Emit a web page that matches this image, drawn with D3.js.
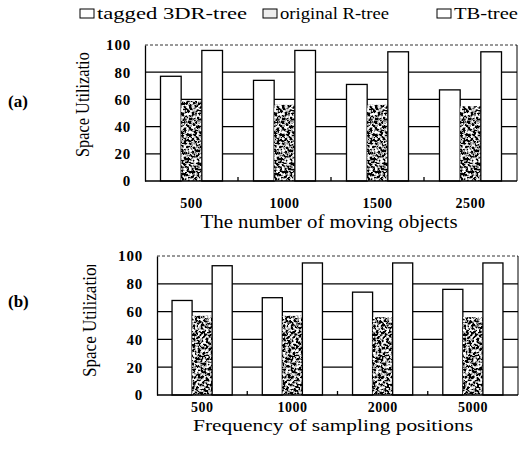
<!DOCTYPE html>
<html>
<head>
<meta charset="utf-8">
<script src="https://cdn.jsdelivr.net/npm/d3@7"></script>
<style>
  body { margin: 0; background: #fff; }
  svg { display: block; }
  text { font-family: "Liberation Serif", "DejaVu Serif", serif; fill: #000; }
</style>
</head>
<body>
<svg id="draw"></svg>
<script>
// data
var series = ["tagged 3DR-tree", "original R-tree", "TB-tree"];
var yTicks = [0, 20, 40, 60, 80, 100];

var catsA = ["500", "1000", "1500", "2500"];
var tagged3drA = [77, 74, 71, 67];
var originalRA = [59, 56, 56, 55];
var tbTreeA = [96, 96, 95, 95];

var catsB = ["500", "1000", "2000", "5000"];
var tagged3drB = [68, 70, 74, 76];
var originalRB = [57, 57, 56, 56];
var tbTreeB = [93, 95, 95, 95];

var width = 526, height = 455;
var serif = "Liberation Serif";

var svg = d3.select("#draw")
  .attr("width", width)
  .attr("height", height);

// stippled texture for the original R-tree bars
var defs = svg.append("defs");
var filt = defs.append("filter").attr("id", "grain")
  .attr("x", 0).attr("y", 0).attr("width", 1).attr("height", 1);
filt.append("feTurbulence")
  .attr("type", "fractalNoise")
  .attr("baseFrequency", 0.38)
  .attr("numOctaves", 3)
  .attr("seed", 7)
  .attr("result", "noise");
filt.append("feColorMatrix")
  .attr("in", "noise")
  .attr("type", "matrix")
  .attr("values", "4.5 0 0 0 -1.95  4.5 0 0 0 -1.95  4.5 0 0 0 -1.95  0 0 0 0 1")
  .attr("result", "spots");
filt.append("feComposite")
  .attr("in", "spots")
  .attr("in2", "SourceGraphic")
  .attr("operator", "in");

var fills = ["#fff", "#555", "#fff"];

// legend
var legendX = [80, 263, 437];
var legendLen = [150, 109, 64];
var legend = svg.append("g");
series.forEach(function(s, i) {
  var g = legend.append("g").attr("transform", "translate(" + legendX[i] + ",9)");
  g.append("rect")
    .attr("width", 14).attr("height", 9)
    .attr("fill", i == 1 ? "#eee" : "#fff")
    .attr("stroke", "#000").attr("stroke-width", 1);
  g.append("text")
    .attr("x", 17).attr("y", 10)
    .attr("font-family", serif)
    .attr("font-size", 17)
    .attr("textLength", legendLen[i])
    .attr("lengthAdjust", "spacingAndGlyphs")
    .text(s);
});

function drawPanel(cfg) {
  var x0 = d3.scaleBand()
    .domain(cfg.cats)
    .range([cfg.left, cfg.right])
    .paddingInner(1 / 3)
    .paddingOuter(1 / 6);

  var x1 = d3.scaleBand()
    .domain(series)
    .range([0, x0.bandwidth()]);

  var y = d3.scaleLinear()
    .domain([0, 100])
    .range([cfg.bottom, cfg.top]);

  var g = svg.append("g");

  // gridlines behind bars
  g.selectAll(".grid")
    .data(yTicks.filter(d => d > 0 && d < 100))
    .enter().append("line")
    .attr("x1", cfg.left).attr("x2", cfg.right)
    .attr("y1", d => y(d)).attr("y2", d => y(d))
    .attr("stroke", "#000").attr("stroke-width", 1.2);

  // top border, dotted
  g.append("line")
    .attr("x1", cfg.left).attr("x2", cfg.right)
    .attr("y1", y(100)).attr("y2", y(100))
    .attr("stroke", "#333").attr("stroke-width", 1)
    .attr("stroke-dasharray", "3,2");

  // right border
  g.append("line")
    .attr("x1", cfg.right).attr("x2", cfg.right)
    .attr("y1", y(100)).attr("y2", y(0))
    .attr("stroke", "#000").attr("stroke-width", 1);

  var rows = cfg.cats.map(function(c, i) {
    return { cat: c, vals: [cfg.tagged[i], cfg.original[i], cfg.tb[i]] };
  });

  var grp = g.selectAll(".grp")
    .data(rows)
    .enter().append("g")
    .attr("transform", d => "translate(" + x0(d.cat) + ",0)");

  grp.selectAll("rect")
    .data(d => d.vals.map((v, j) => ({ s: series[j], v: v, j: j })))
    .enter().append("rect")
    .attr("x", d => x1(d.s))
    .attr("y", d => y(d.v))
    .attr("width", x1.bandwidth())
    .attr("height", d => y(0) - y(d.v))
    .attr("fill", d => fills[d.j])
    .attr("filter", d => d.j == 1 ? "url(#grain)" : null)
    .attr("stroke", d => d.j == 1 ? "none" : "#000")
    .attr("stroke-width", 1.3);

  // y axis
  var yAxis = g.append("g")
    .attr("transform", "translate(" + cfg.left + ",0)")
    .call(d3.axisLeft(y).tickValues(yTicks).tickSize(0).tickPadding(14))
    .attr("font-family", serif);
  yAxis.select(".domain").attr("stroke", "#000").attr("stroke-width", 1.3);
  yAxis.selectAll("text")
    .attr("font-size", 15)
    .attr("font-weight", "bold")
    .attr("letter-spacing", 0.8)
    .attr("fill", "#000");

  // baseline + category boundary ticks (pointing up)
  g.append("line")
    .attr("x1", cfg.left).attr("x2", cfg.right)
    .attr("y1", y(0)).attr("y2", y(0))
    .attr("stroke", "#000").attr("stroke-width", 1.3);
  var step = x0.step();
  g.selectAll(".btick")
    .data(cfg.cats.slice(1))
    .enter().append("line")
    .attr("x1", d => x0(d) - step * x0.paddingInner() / 2)
    .attr("x2", d => x0(d) - step * x0.paddingInner() / 2)
    .attr("y1", y(0)).attr("y2", y(0) - 4)
    .attr("stroke", "#000").attr("stroke-width", 1.3);

  // x tick labels
  g.selectAll(".xlab")
    .data(cfg.cats)
    .enter().append("text")
    .attr("x", d => x0(d) + x0.bandwidth() / 2)
    .attr("y", cfg.bottom + cfg.labelDy)
    .attr("text-anchor", "middle")
    .attr("font-family", serif)
    .attr("font-size", 14)
    .attr("font-weight", "bold")
    .attr("letter-spacing", 0.5)
    .text(d => d);

  // x title
  g.append("text")
    .attr("x", cfg.titleX - cfg.titleLen / 2)
    .attr("y", cfg.bottom + cfg.titleDy)
    .attr("font-family", serif)
    .attr("font-size", cfg.titleSize)
    .attr("textLength", cfg.titleLen)
    .attr("lengthAdjust", "spacingAndGlyphs")
    .text(cfg.xTitle);

  // y title, clipped at the top like the original
  var clipId = "clip" + cfg.id;
  defs.append("clipPath").attr("id", clipId)
    .append("rect")
    .attr("x", 0).attr("y", cfg.yTitleTop)
    .attr("width", 150).attr("height", 200);
  g.append("g").attr("clip-path", "url(#" + clipId + ")")
    .append("text")
    .attr("transform", "translate(" + cfg.yTitleX + "," + cfg.yTitleBottom + ") rotate(-90)")
    .attr("font-family", serif)
    .attr("font-size", 18)
    .attr("textLength", cfg.yTitleLen)
    .attr("lengthAdjust", "spacingAndGlyphs")
    .text("Space Utilization");

  // panel tag
  g.append("text")
    .attr("x", 8)
    .attr("y", cfg.tagY)
    .attr("font-family", serif)
    .attr("font-size", 17)
    .attr("font-weight", "bold")
    .text(cfg.tag);
}

drawPanel({
  id: "a", tag: "(a)", tagY: 107,
  cats: catsA, tagged: tagged3drA, original: originalRA, tb: tbTreeA,
  left: 145, right: 517, top: 45, bottom: 181,
  labelDy: 27,
  xTitle: "The number of moving objects", titleX: 329, titleDy: 47, titleLen: 257, titleSize: 18,
  yTitleX: 89, yTitleBottom: 157, yTitleTop: 52, yTitleLen: 113
});

drawPanel({
  id: "b", tag: "(b)", tagY: 307,
  cats: catsB, tagged: tagged3drB, original: originalRB, tb: tbTreeB,
  left: 157, right: 518, top: 256, bottom: 395,
  labelDy: 17,
  xTitle: "Frequency of sampling positions", titleX: 333, titleDy: 36, titleLen: 280, titleSize: 16,
  yTitleX: 96, yTitleBottom: 377, yTitleTop: 265, yTitleLen: 118
});
</script>
</body>
</html>
